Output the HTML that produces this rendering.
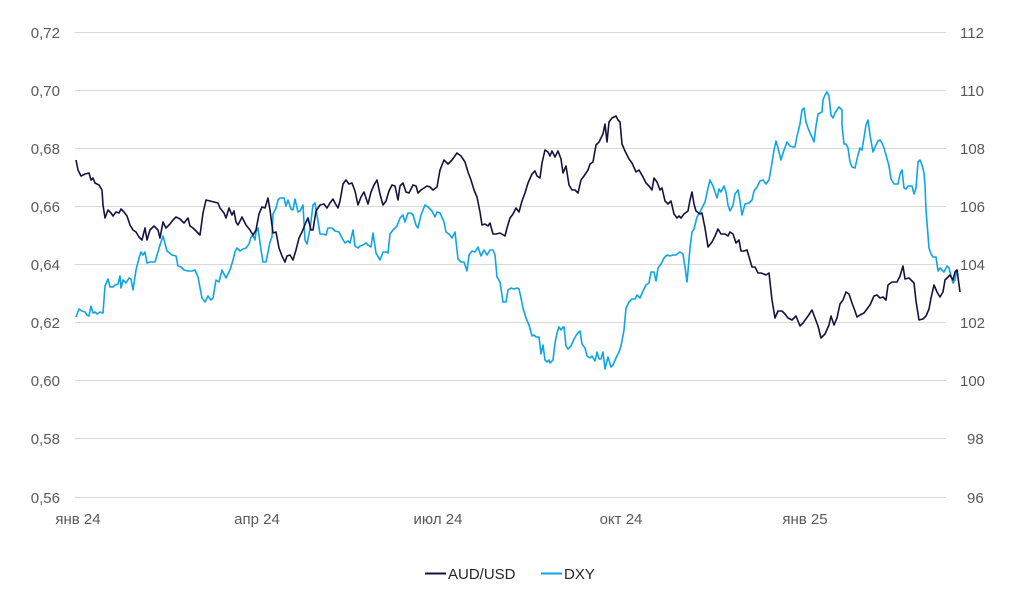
<!DOCTYPE html>
<html><head><meta charset="utf-8"><style>
html,body{margin:0;padding:0;background:#fff;}
svg{display:block;font-family:"Liberation Sans",sans-serif;}
</style></head><body>
<svg width="1024" height="595" viewBox="0 0 1024 595">
<g stroke="#d9d9d9" stroke-width="1">
<line x1="75" x2="946" y1="32.5" y2="32.5"/><line x1="75" x2="946" y1="90.5" y2="90.5"/>
<line x1="75" x2="946" y1="148.5" y2="148.5"/><line x1="75" x2="946" y1="206.5" y2="206.5"/>
<line x1="75" x2="946" y1="264.5" y2="264.5"/><line x1="75" x2="946" y1="322.5" y2="322.5"/>
<line x1="75" x2="946" y1="380.5" y2="380.5"/><line x1="75" x2="946" y1="438.5" y2="438.5"/>
<line x1="75" x2="946" y1="497.5" y2="497.5"/>
</g>
<g fill="#595959" font-size="15" text-anchor="end">
<text x="60" y="38">0,72</text><text x="60" y="96">0,70</text><text x="60" y="154">0,68</text>
<text x="60" y="212">0,66</text><text x="60" y="270">0,64</text><text x="60" y="328">0,62</text>
<text x="60" y="386">0,60</text><text x="60" y="444">0,58</text><text x="60" y="503">0,56</text>
</g>
<g fill="#595959" font-size="15" text-anchor="start">
<text x="960" y="38">112</text><text x="960" y="96">110</text><text x="960" y="154">108</text>
<text x="960" y="212">106</text><text x="960" y="270">104</text><text x="960" y="328">102</text>
<text x="960" y="386">100</text><text x="967" y="444">98</text><text x="967" y="503">96</text>
</g>
<g fill="#595959" font-size="15" text-anchor="middle">
<text x="78" y="524">янв 24</text><text x="257" y="524">апр 24</text><text x="438" y="524">июл 24</text>
<text x="621" y="524">окт 24</text><text x="805" y="524">янв 25</text>
</g>
<polyline fill="none" stroke="#0ea5e6" stroke-width="1.6" stroke-linejoin="round" points="76,317 79,309 82,311 85,312 87,315 89,316 91,306 93,313 95,312 97,314 100,312 103,313 105,286 108,279 110,287 113,287 115,285 118,284 120,276 121,288 123,280 126,283 129,278 131,279 133,290 136,270 139,258 141,252 143,255 145,252 147,263 150,262 155,262 160,245 163,236 167,251 172,255 176,256 178,266 181,267 184,270 188,271 192,271 195,270 198,277 202,298 205,302 208,296 211,300 213,298 216,280 219,282 222,270 226,278 230,270 233,260 235,252 237,248 240,251 243,249 246,248 249,244 251,237 253,235 255,240 256,232 258,228 261,250 263,262 266,262 268,252 270,242 272,237 273,214 276,208 278,200 280,198 284,198 286,206 288,200 291,209 293,210 295,199 298,212 300,211 303,205 305,240 307,244 310,229 313,205 315,203 317,215 320,234 323,234 326,235 328,228 332,228 335,231 339,232 342,238 345,243 348,241 350,243 353,230 355,246 358,248 360,246 363,245 366,243 368,245 371,247 373,233 376,253 380,260 383,252 386,252 388,253 390,234 393,230 397,226 400,218 403,215 405,222 408,213 411,213 413,215 416,225 418,228 421,215 425,205 428,207 432,211 435,217 437,212 440,213 444,222 446,232 449,234 452,238 455,232 458,259 461,262 464,262 467,271 469,255 472,251 475,252 478,247 481,256 484,250 487,255 490,250 493,250 495,255 497,277 500,282 503,302 506,302 508,290 511,288 514,289 517,288 519,289 521,298 523,308 526,318 529,325 532,336 534,335 536,337 539,337 541,354 543,345 545,360 547,362 549,360 550,363 553,360 555,343 557,333 559,327 561,330 563,327 564,327 566,346 568,349 571,346 574,339 577,334 580,331 582,344 585,348 587,356 590,358 592,356 595,361 597,352 599,359 601,359 603,352 605,369 608,357 611,367 613,365 616,358 619,352 621,346 624,330 626,308 629,302 632,299 635,299 637,295 640,298 643,291 646,285 649,283 651,272 654,272 656,281 658,268 661,264 664,258 667,255 670,256 673,255 676,255 680,252 683,254 685,267 687,282 690,248 692,232 694,229 697,217 700,212 702,208 705,202 708,188 710,180 713,186 717,198 719,189 721,192 724,186 726,192 728,205 730,211 733,205 735,194 738,190 740,201 742,215 745,204 749,203 752,200 754,191 757,187 760,181 763,180 766,184 769,180 772,163 774,150 776,141 778,148 781,160 783,153 787,142 790,146 793,147 795,147 797,136 800,124 802,110 804,108 806,122 808,128 810,133 812,137 814,142 816,126 818,114 820,113 822,112 823,100 825,95 827,92 829,96 831,115 833,118 835,113 837,110 839,107 842,110 842,125 844,144 846,144 848,148 850,162 852,167 855,168 858,155 860,148 862,150 866,125 868,120 870,135 873,152 876,145 878,141 880,140 882,143 884,148 886,155 889,166 891,179 894,184 898,184 900,174 902,170 904,188 906,189 908,186 912,186 914,194 916,188 918,162 920,160 922,165 924,173 925,185 926,210 929,248 931,254 933,257 936,257 938,271 940,268 942,270 944,272 947,266 949,268 951,276 953,283 955,280 957,270 958,275"/>
<polyline fill="none" stroke="#16123f" stroke-width="1.6" stroke-linejoin="round" points="76,160 78,170 81,176 85,174 89,173 91,180 93,178 95,183 99,185 102,190 103,205 105,218 108,210 111,213 113,216 116,212 119,213 121,209 124,212 127,216 130,225 133,230 136,232 139,237 142,240 145,228 147,240 150,230 154,226 158,230 160,238 163,222 166,228 170,224 173,220 176,217 180,219 184,223 188,218 190,226 193,228 197,232 200,235 203,213 206,200 210,201 214,202 218,203 220,208 224,213 226,218 229,208 232,215 234,211 236,222 238,225 242,217 246,225 250,230 253,235 256,230 259,214 262,207 265,208 268,198 270,210 273,233 276,232 279,248 282,256 285,262 287,256 290,255 293,260 296,250 299,238 302,232 306,222 308,218 311,230 313,230 316,211 320,205 324,204 327,208 330,203 333,199 335,203 338,208 340,201 343,184 346,180 349,184 352,183 355,191 358,205 361,197 364,192 368,204 371,192 374,185 377,180 380,194 383,205 386,201 389,191 392,185 395,186 398,200 400,186 403,183 406,192 409,193 413,185 416,186 418,193 421,190 424,188 427,186 430,187 433,190 437,187 440,170 444,160 448,164 452,160 457,153 461,156 465,162 468,172 471,180 474,190 477,197 480,212 482,225 485,224 488,226 490,223 493,234 496,234 500,233 505,236 507,228 510,218 513,214 516,208 519,212 522,201 525,193 528,183 532,174 535,171 537,176 540,178 542,163 545,150 548,152 550,156 552,151 555,157 558,151 561,159 563,173 566,166 569,185 572,190 575,190 578,193 581,180 584,176 588,170 590,164 593,162 596,145 599,142 601,138 603,134 605,124 607,142 609,122 612,118 616,116 618,120 620,122 622,144 625,151 629,159 632,163 636,172 639,170 643,177 646,183 649,186 652,190 654,178 657,182 660,190 662,188 665,201 668,204 671,201 674,214 677,218 679,216 681,218 684,214 688,211 690,200 692,192 694,204 696,211 700,214 702,213 705,228 708,247 712,242 715,236 718,229 721,234 725,234 728,236 730,232 733,234 736,243 739,240 741,251 744,251 747,250 752,267 755,267 758,273 761,273 764,274 766,275 769,273 772,300 775,318 778,311 782,311 785,314 788,318 792,320 796,316 800,326 803,323 808,316 812,310 815,318 818,326 821,338 825,334 829,325 831,316 834,325 837,318 840,304 843,300 846,292 849,294 852,303 855,311 857,317 860,315 864,313 867,309 870,305 874,296 877,295 880,298 883,297 886,300 888,285 892,282 897,282 900,276 903,266 905,279 909,278 914,283 916,301 919,320 923,319 926,316 929,309 931,298 934,285 937,292 940,297 943,292 945,280 947,278 950,275 953,280 955,272 957,270 960,292"/>
<line x1="425" x2="446" y1="573.5" y2="573.5" stroke="#16123f" stroke-width="2"/>
<text x="448" y="579" font-size="15" fill="#262626">AUD/USD</text>
<line x1="541" x2="562" y1="573.5" y2="573.5" stroke="#0ea5e6" stroke-width="2"/>
<text x="564" y="579" font-size="15" fill="#262626">DXY</text>
</svg>
</body></html>
